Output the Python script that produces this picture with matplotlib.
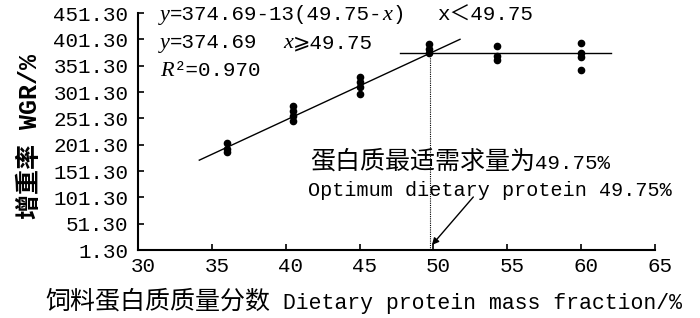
import matplotlib
matplotlib.use("Agg")
import matplotlib.pyplot as plt
import numpy as np
from matplotlib.offsetbox import TextArea, HPacker, AnnotationBbox
from matplotlib.transforms import ScaledTranslation

# ---- data ----
protein = [36, 36, 36,
           40.5, 40.5, 40.5, 40.5,
           45, 45, 45, 45,
           49.7, 49.7, 49.7,
           54.3, 54.3, 54.3,
           60, 60, 60, 60]
wgr = [205, 193, 187,
       275, 265, 256, 247,
       330, 321, 311, 298,
       392, 383, 376,
       388, 369, 363,
       395, 376, 368, 344]

breakpoint_x = 49.75
plateau_y = 374.69
slope = 13
rise_x = [34.15, 51.8]
plateau_x = [47.75, 62.0]

x_ticks = [30, 35, 40, 45, 50, 55, 60, 65]
y_ticks = [1.30, 51.30, 101.30, 151.30, 201.30, 251.30, 301.30, 351.30, 401.30, 451.30]

MONO = ['Liberation Mono', 'Noto Sans CJK SC', 'DejaVu Sans']
CJK = ['Noto Sans CJK SC', 'DejaVu Sans']
ITAL = dict(family=['Liberation Serif', 'DejaVu Serif'], style='italic', size=16, color='black')

fig = plt.figure(figsize=(7.0, 3.18), dpi=100)
W, H = 700, 318
ax = fig.add_axes([138 / W, 1 - 250 / H, (655 - 138) / W, (250 - 13) / H])

# fitted lines
rx = np.array(rise_x)
ax.plot(rx, plateau_y - slope * (breakpoint_x - rx), color='black', lw=1.0)
ax.plot(plateau_x, [plateau_y, plateau_y], color='black', lw=1.0)
ax.plot([breakpoint_x, breakpoint_x], [y_ticks[0], plateau_y], color='black',
        lw=0.8, linestyle=(0, (1, 1)))

ax.plot(protein, wgr, 'o', color='black', markersize=4.5, zorder=3)

ax.set_xlim(30, 65)
ax.set_ylim(1.3, 451.3)
ax.set_xticks(x_ticks)
ax.set_xticklabels([str(v) for v in x_ticks])
ax.set_yticks(y_ticks)
ax.set_yticklabels([f"{v:.2f}" for v in y_ticks])

for s in ['top', 'right']:
    ax.spines[s].set_visible(False)
for s in ['left', 'bottom']:
    ax.spines[s].set_linewidth(1.5)
ax.tick_params(direction='in', length=4, width=1.2, labelsize=15)
ax.tick_params(axis='y', pad=7)
ax.tick_params(axis='x', pad=5)
for lab in ax.get_xticklabels() + ax.get_yticklabels():
    lab.set_family(MONO)
for lab in ax.get_xticklabels():
    lab.set_transform(lab.get_transform() + ScaledTranslation(5 / 100, 0, fig.dpi_scale_trans))

# y label
ax.set_ylabel('增重率 WGR/%', family=MONO, fontsize=18, fontweight='bold', va='center')
ax.yaxis.set_label_coords((30 - 138) / 517, 0.48)


def rich(parts, x_px, y_top_px):
    boxes = [TextArea(s, textprops=p) for s, p in parts]
    pk = HPacker(children=boxes, align='baseline', pad=0, sep=0)
    ab = AnnotationBbox(pk, (x_px, H - y_top_px), xycoords='figure pixels',
                        box_alignment=(0, 0.5), frameon=False, pad=0,
                        annotation_clip=False)
    fig.add_artist(ab)


m15 = dict(family=MONO, size=15, color='black')
m155 = dict(family=MONO, size=15.5, color='black')
m145 = dict(family=MONO, size=14.5, color='black')
c18 = dict(family=CJK, size=18, color='black')

# x label
rich([('饲料蛋白质质量分数', c18), (' Dietary protein mass fraction/%', m155)], 45, 302)

# equations
rich([('y', ITAL), ('=374.69-13(49.75-', m15), ('x', ITAL), (')', m15)], 160, 15)
rich([('x＜49.75', m15)], 437, 15)
rich([('y', ITAL), ('=374.69', m15)], 160, 43)
rich([('x', ITAL), ('⩾49.75', m15)], 283, 43)
rich([('R', ITAL), ('²=0.970', m15)], 160, 71)

# annotation text
rich([('蛋白质最适需求量为', c18), ('49.75%', m15)], 310, 162)
rich([('Optimum dietary protein 49.75%', m145)], 308, 191)

ax.annotate('', xy=(49.9, 10.8), xytext=(52.7, 102),
            arrowprops=dict(arrowstyle='-|>', color='black', lw=1.0, mutation_scale=10,
                            shrinkA=0, shrinkB=0))

fig.savefig('out.png', dpi=100)
